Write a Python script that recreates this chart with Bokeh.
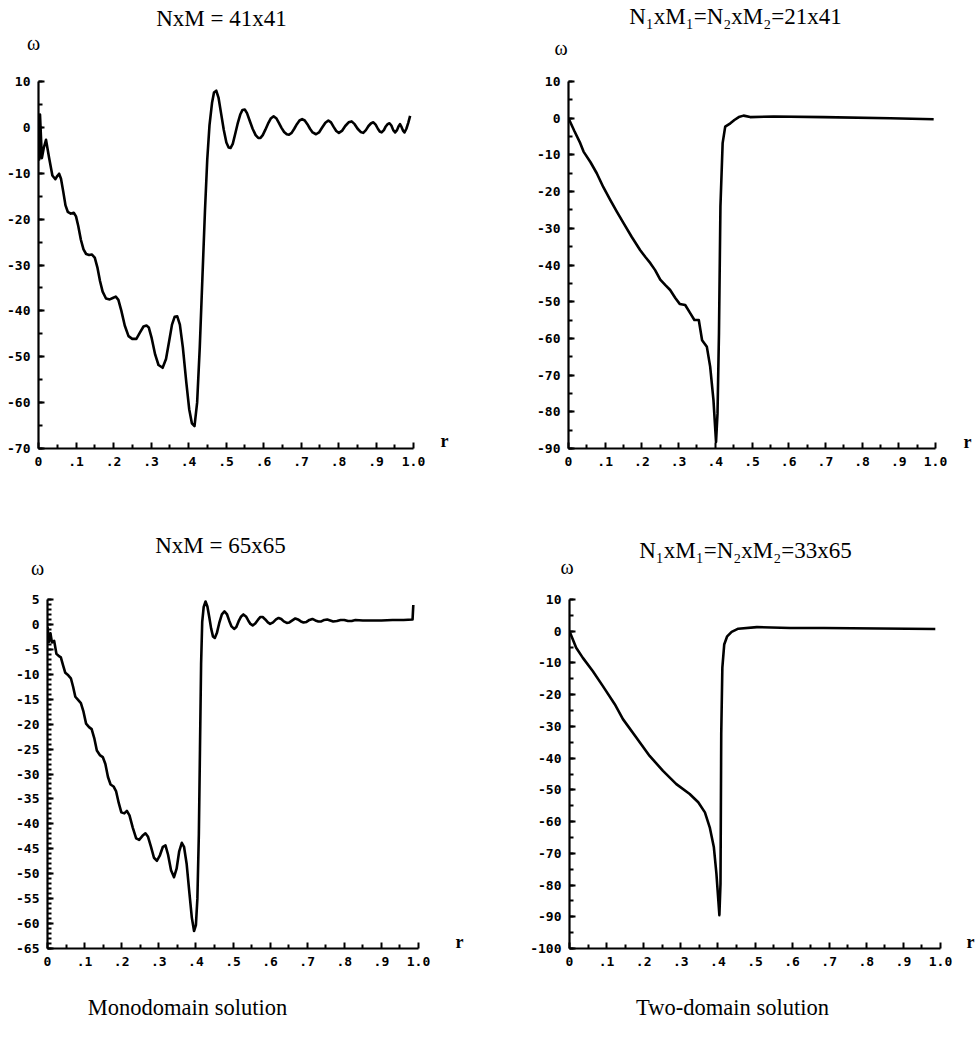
import numpy as np
from bokeh.plotting import figure
from bokeh.models import Range1d, FixedTicker, CustomJSTickFormatter, LinearAxis
from bokeh.layouts import row, column
from bokeh.embed import file_html
from bokeh.resources import INLINE

# ---------------- data ----------------
# Monodomain, N x M = 41 x 41
r_41 = [0.000, 0.002, 0.004, 0.006, 0.009, 0.014, 0.020, 0.028, 0.037, 0.045, 0.050, 0.055,
        0.060, 0.066, 0.072, 0.078, 0.086, 0.094, 0.100, 0.106, 0.113, 0.120, 0.127, 0.135,
        0.142, 0.150, 0.157, 0.164, 0.171, 0.180, 0.190, 0.198, 0.206, 0.213, 0.221, 0.230,
        0.240, 0.250, 0.261, 0.270, 0.280, 0.288, 0.294, 0.302, 0.311, 0.320, 0.331, 0.340,
        0.348, 0.356, 0.363, 0.370, 0.377, 0.385, 0.394, 0.402, 0.409, 0.416, 0.423, 0.430,
        0.437, 0.444, 0.450, 0.456, 0.463, 0.468, 0.474, 0.480, 0.487, 0.494, 0.501, 0.507,
        0.512, 0.518, 0.524, 0.531, 0.538, 0.544, 0.550, 0.556, 0.563, 0.571, 0.579, 0.586,
        0.592, 0.598, 0.605, 0.612, 0.620, 0.627, 0.634, 0.641, 0.648, 0.655, 0.662, 0.668,
        0.675, 0.682, 0.689, 0.696, 0.703, 0.710, 0.717, 0.724, 0.731, 0.740, 0.748, 0.756,
        0.765, 0.773, 0.780, 0.787, 0.794, 0.801, 0.810, 0.818, 0.827, 0.835, 0.843, 0.851,
        0.859, 0.866, 0.873, 0.880, 0.887, 0.893, 0.899, 0.905, 0.910, 0.915, 0.921, 0.926,
        0.931, 0.936, 0.941, 0.946, 0.951, 0.956, 0.960, 0.964, 0.968, 0.972, 0.976, 0.981,
        0.986, 0.991]
w_41 = [1.0, -7.0, 2.8, -1.0, -6.7, -4.5, -2.7, -6.5, -10.5, -11.3, -10.6, -10.1,
        -11.2, -14.0, -17.0, -18.4, -18.8, -18.6, -19.4, -21.5, -24.5, -26.6, -27.6, -27.8,
        -27.7, -28.4, -30.5, -33.5, -35.8, -37.3, -37.5, -37.2, -36.9, -37.6, -40.0, -43.2,
        -45.5, -46.1, -46.1, -44.8, -43.4, -43.2, -43.6, -46.0, -49.5, -51.8, -52.4, -50.5,
        -46.8, -43.0, -41.3, -41.2, -43.0, -48.0, -55.5, -61.5, -64.5, -65.1, -60.0, -48.0,
        -33.0, -18.0, -7.0, 0.5, 5.5, 7.6, 8.0, 6.5, 3.0, -0.5, -3.3, -4.4,
        -4.5, -3.6, -1.6, 0.8, 2.8, 3.8, 3.9, 3.1, 1.5, -0.3, -1.7, -2.3,
        -2.3, -1.7, -0.5, 0.8, 2.0, 2.4, 2.0, 1.0, -0.1, -1.0, -1.5, -1.6,
        -1.2, -0.3, 0.7, 1.5, 1.8, 1.5, 0.7, -0.3, -1.1, -1.5, -1.1, -0.1,
        1.0, 1.5, 1.1, 0.1, -0.8, -1.2, -0.7, 0.3, 1.1, 1.3, 0.7, -0.3,
        -1.0, -1.2, -0.6, 0.3, 0.9, 1.1, 0.6, -0.3, -0.9, -1.1, -0.6, 0.2,
        0.7, 0.9, 0.4, -0.6, -1.1, -0.6, 0.2, 0.7, 0.1, -0.7, -1.1, -0.3,
        1.0, 2.5]

# Two-domain, N1xM1 = N2xM2 = 21 x 41
r_21 = [0.000, 0.016, 0.032, 0.041, 0.060, 0.077, 0.095, 0.114, 0.132, 0.150, 0.172, 0.195,
        0.210, 0.223, 0.236, 0.250, 0.264, 0.277, 0.291, 0.303, 0.318, 0.332, 0.343, 0.355,
        0.364, 0.377, 0.386, 0.395, 0.402, 0.406, 0.410, 0.414, 0.420, 0.427, 0.441, 0.452,
        0.464, 0.477, 0.495, 0.559, 0.695, 0.877, 0.995]
w_21 = [0.0, -3.5, -6.8, -9.1, -12.0, -15.0, -18.8, -22.3, -25.5, -28.6, -32.3, -35.9,
        -37.9, -39.5, -41.4, -44.0, -45.5, -46.8, -49.0, -50.6, -50.9, -53.2, -55.0, -55.0,
        -60.5, -62.3, -67.7, -76.8, -88.2, -80.5, -58.6, -24.0, -6.8, -2.3, -1.4, -0.5,
        0.3, 0.7, 0.3, 0.45, 0.3, 0.0, -0.3]

# Monodomain, N x M = 65 x 65
r_65 = [0.000, 0.004, 0.008, 0.012, 0.018, 0.024, 0.030, 0.036, 0.042, 0.048, 0.056, 0.063,
        0.069, 0.075, 0.083, 0.090, 0.097, 0.104, 0.112, 0.119, 0.126, 0.133, 0.141, 0.149,
        0.156, 0.163, 0.170, 0.178, 0.185, 0.192, 0.199, 0.207, 0.214, 0.221, 0.230, 0.239,
        0.247, 0.256, 0.264, 0.271, 0.279, 0.287, 0.295, 0.303, 0.311, 0.318, 0.325, 0.333,
        0.341, 0.348, 0.355, 0.362, 0.368, 0.375, 0.382, 0.389, 0.395, 0.400, 0.404, 0.408,
        0.411, 0.414, 0.417, 0.421, 0.426, 0.431, 0.436, 0.441, 0.446, 0.451, 0.457, 0.463,
        0.470, 0.477, 0.484, 0.490, 0.496, 0.503, 0.509, 0.515, 0.522, 0.528, 0.535, 0.541,
        0.547, 0.553, 0.560, 0.567, 0.574, 0.580, 0.587, 0.594, 0.600, 0.608, 0.616, 0.623,
        0.630, 0.637, 0.645, 0.652, 0.660, 0.668, 0.675, 0.683, 0.690, 0.698, 0.706, 0.714,
        0.722, 0.730, 0.738, 0.746, 0.754, 0.762, 0.770, 0.780, 0.790, 0.800, 0.810, 0.820,
        0.830, 0.850, 0.870, 0.900, 0.930, 0.960, 0.984, 0.986]
w_65 = [-0.5, -3.5, -1.8, -3.6, -3.3, -5.9, -6.3, -6.6, -8.2, -9.7, -10.2, -10.8,
        -12.5, -14.5, -15.2, -15.8, -17.5, -19.9, -20.6, -21.0, -22.8, -25.3, -26.2, -26.6,
        -28.0, -30.6, -32.1, -32.5, -33.5, -35.8, -37.7, -37.9, -37.4, -38.3, -40.8, -42.9,
        -43.2, -42.4, -41.9, -42.6, -44.6, -46.8, -47.4, -46.3, -44.6, -44.3, -46.2, -49.3,
        -50.7, -49.0, -45.5, -43.8, -44.6, -48.0, -53.5, -58.8, -61.5, -60.3, -55.0, -42.0,
        -25.0, -8.0, 0.5, 3.5, 4.6, 3.6, 1.5, -0.8, -2.4, -2.7, -1.6, 0.3,
        2.0, 2.6, 2.0, 0.7, -0.4, -0.9, -0.5, 0.6, 1.6, 2.0, 1.6, 0.8,
        0.1, -0.2, 0.2, 0.9, 1.5, 1.5, 1.0, 0.4, 0.1, 0.4, 1.0, 1.3,
        1.1, 0.6, 0.3, 0.4, 0.8, 1.2, 1.0, 0.6, 0.4, 0.5, 0.9, 1.1,
        0.8, 0.6, 0.6, 0.9, 1.0, 0.8, 0.6, 0.7, 0.9, 0.9, 0.7, 0.7,
        0.9, 0.8, 0.8, 0.8, 0.9, 0.9, 1.0, 3.9]

# Two-domain, N1xM1 = N2xM2 = 33 x 65
r_33 = [0.000, 0.018, 0.036, 0.063, 0.090, 0.122, 0.144, 0.180, 0.216, 0.252, 0.288, 0.324,
        0.347, 0.365, 0.378, 0.389, 0.396, 0.404, 0.407, 0.409, 0.412, 0.417, 0.425, 0.437,
        0.455, 0.505, 0.595, 0.685, 0.986]
w_33 = [0.0, -5.2, -8.4, -12.6, -17.3, -23.0, -27.7, -33.5, -39.3, -44.0, -48.2, -51.3,
        -53.9, -57.1, -61.8, -68.0, -76.4, -89.5, -79.6, -32.5, -11.5, -4.2, -1.6, -0.2,
        0.8, 1.3, 1.0, 1.0, 0.7]

x_tick_values = [0.0, 0.1, 0.2, 0.3, 0.4, 0.5, 0.6, 0.7, 0.8, 0.9, 1.0]
y_ticks_41 = [10, 0, -10, -20, -30, -40, -50, -60, -70]
y_ticks_21 = [10, 0, -10, -20, -30, -40, -50, -60, -70, -80, -90]
y_ticks_65 = [5, 0, -5, -10, -15, -20, -25, -30, -35, -40, -45, -50, -55, -60, -65]
y_ticks_33 = [10, 0, -10, -20, -30, -40, -50, -60, -70, -80, -90, -100]

titles = ["NxM = 41x41", "N\u2081xM\u2081=N\u2082xM\u2082=21x41",
          "NxM = 65x65", "N\u2081xM\u2081=N\u2082xM\u2082=33x65"]
captions = ["Monodomain solution", "Two-domain solution"]
y_name = "\u03c9"
x_name = "r"

SERIF = "Liberation Serif"
MONO = "DejaVu Sans Mono"

x_fmt = CustomJSTickFormatter(code="""
if (Math.abs(tick) < 1e-9) return '0';
if (tick > 0.999) return '1.0';
return '.' + Math.round(tick * 10);
""")
y_fmt = CustomJSTickFormatter(code="return Math.round(tick).toString();")


def text_axis(p, side, value, text, size_px, standoff, style="normal"):
    """An axis without line/ticks whose single tick label carries a text."""
    ax = LinearAxis(ticker=FixedTicker(ticks=[value], minor_ticks=[]),
                    formatter=CustomJSTickFormatter(code="return " + repr(text) + ";"))
    ax.axis_line_color = None
    ax.major_tick_line_color = None
    ax.minor_tick_line_color = None
    ax.major_tick_in = 0
    ax.major_tick_out = 0
    ax.minor_tick_in = 0
    ax.minor_tick_out = 0
    ax.major_label_standoff = standoff
    ax.major_label_text_font = SERIF
    ax.major_label_text_font_size = f"{size_px}px"
    ax.major_label_text_font_style = style
    ax.major_label_text_color = "black"
    p.add_layout(ax, side)
    return ax


def make_panel(r, w, yticks, yminor_step, origin, size, frame,
               title, title_px, title_standoff,
               omega_pad, omega_standoff,
               r_py, r_standoff,
               caption=None, caption_px=None, caption_standoff=0):
    ox, oy = origin
    W, H = size
    fl, fr, ft, fb = frame
    y0, y1 = min(yticks), max(yticks)
    p = figure(width=W, height=H, output_backend="svg", toolbar_location=None,
               x_range=Range1d(0, 1.0), y_range=Range1d(y0, y1),
               min_border_left=fl - ox, min_border_right=ox + W - fr,
               min_border_top=ft - oy, min_border_bottom=oy + H - fb)
    p.outline_line_color = None
    p.grid.visible = False
    p.background_fill_color = "white"
    p.border_fill_color = "white"

    p.line(r, w, line_color="black", line_width=2.6, line_join="round")

    xminor = list(np.arange(0.05, 1.0, 0.1))
    p.xaxis.ticker = FixedTicker(ticks=x_tick_values, minor_ticks=xminor)
    p.xaxis.formatter = x_fmt
    yminor = list(np.arange(y0, y1 + 0.01, yminor_step))
    p.yaxis.ticker = FixedTicker(ticks=yticks, minor_ticks=yminor)
    p.yaxis.formatter = y_fmt

    for ax in (p.xaxis, p.yaxis):
        ax.axis_line_width = 2.2
        ax.axis_line_color = "black"
        ax.major_tick_in = 6
        ax.major_tick_out = 0
        ax.minor_tick_in = 4
        ax.minor_tick_out = 0
        ax.major_tick_line_width = 2
        ax.minor_tick_line_width = 2
        ax.major_tick_line_color = "black"
        ax.minor_tick_line_color = "black"
        ax.major_label_text_font = MONO
        ax.major_label_text_font_style = "bold"
        ax.major_label_text_font_size = "13px"
        ax.major_label_text_color = "black"
    p.xaxis.major_label_standoff = 8
    p.yaxis.major_label_standoff = 8

    def dx(px):
        return (px - fl) / (fr - fl)

    def dy(py):
        return y1 - (py - ft) / (fb - ft) * (y1 - y0)

    # above: omega (closest to frame), then the title
    text_axis(p, "above", 0.0, y_name + "\u00a0" * omega_pad, 20, omega_standoff)
    text_axis(p, "above", round(dx(title_px), 4), title, 23, title_standoff)
    # right: the r at the end of the x axis
    text_axis(p, "right", round(dy(r_py), 3), x_name, 18, r_standoff, style="bold")
    # below: caption under the x axis
    if caption:
        text_axis(p, "below", round(dx(caption_px), 4), caption, 22.5, caption_standoff)
    return p


p1 = make_panel(r_41, w_41, y_ticks_41, 5, (0, 0), (490, 520), (38, 413, 81, 448),
                titles[0], 221, -2, 2, 28, 441, 27)
p2 = make_panel(r_21, w_21, y_ticks_21, 5, (490, 0), (487, 520), (568, 935, 81, 448),
                titles[1], 735, 5, 3, 23, 441, 28)
p3 = make_panel(r_65, w_65, y_ticks_65, 1, (0, 520), (490, 528), (47, 418, 599, 948),
                titles[2], 220, -4, 4, 21, 941, 37,
                captions[0], 187, 26)
p4 = make_panel(r_33, w_33, y_ticks_33, 5, (490, 520), (487, 528), (569, 940, 599, 948),
                titles[3], 745, -10, 1, 22, 941, 26,
                captions[1], 732, 26)

layout = column(row(p1, p2), row(p3, p4))
open("out.html", "w").write(file_html(layout, INLINE))
